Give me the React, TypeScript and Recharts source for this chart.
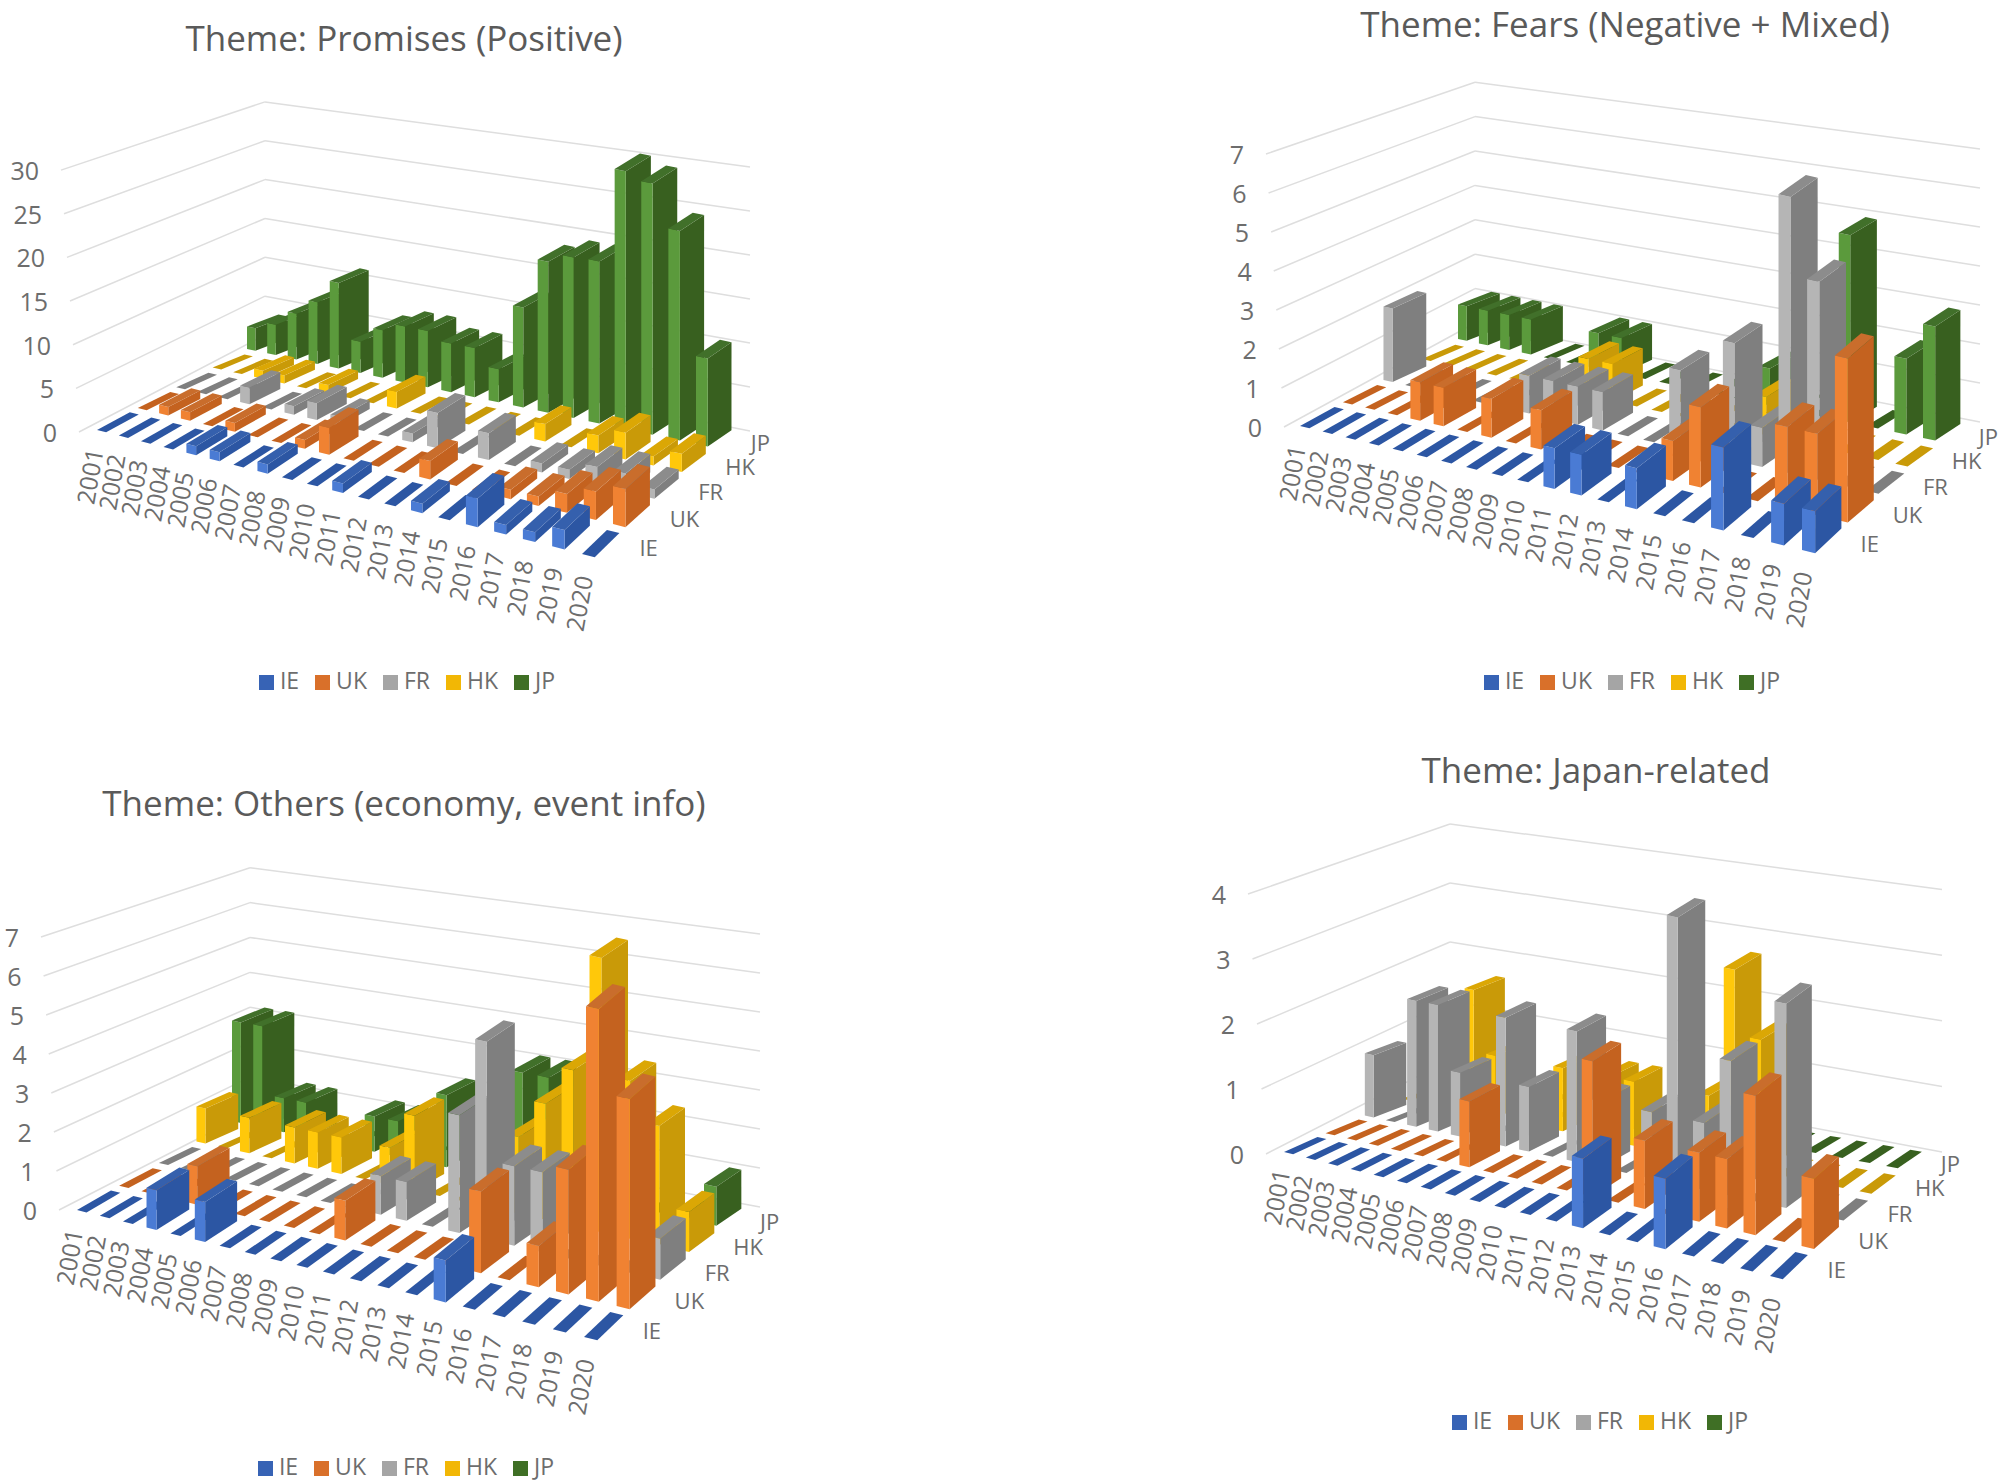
import { ComposedChart, Legend, ReferenceLine, Scatter, XAxis, YAxis } from 'recharts';

const years = ['2001','2002','2003','2004','2005','2006','2007','2008','2009','2010','2011','2012','2013','2014','2015','2016','2017','2018','2019','2020'];
const countries = ['IE', 'UK', 'FR', 'HK', 'JP'];

const promisesIE = [0,0,0,0,1,1,0,1,0,0,1,0,0,1,0,3,1,1,2,0];
const promisesUK = [0,1,1,0,1,0,0,1,3,0,0,0,2,0,0,1,1,2,3,4];
const promisesFR = [0,0,0,2,0,1,2,1,0,0,1,4,0,3,0,1,1,2,2,1];
const promisesHK = [0,0,1,1,0,1,0,0,2,0,0,0,0,0,2,0,2,3,1,2];
const promisesJP = [3,4,6,8,11,4,6,7,7,6,6,4,12,18,19,19,30,29,24,10];

const fearsIE = [0,0,0,0,0,0,0,0,0,0,1,1,0,1,0,0,2,0,1,1];
const fearsUK = [0,0,0,1,1,0,1,0,1,0,0,0,0,1,2,0,0,2,2,4];
const fearsFR = [2,0,0,0,0,0,1,1,1,1,0,0,2,0,3,1,7,5,0,0];
const fearsHK = [0,0,0,0,0,0,0,1,1,0,0,0,0,0,1,0,0,0,0,0];
const fearsJP = [1,1,1,1,0,0,1,1,0,0,0,0,0,1,0,0,5,0,2,3];

const othersIE = [0,0,0,1,0,1,0,0,0,0,0,0,0,0,1,0,0,0,0,0];
const othersUK = [0,0,0,1,0,0,0,0,0,1,0,0,0,0,2,0,1,3,7,5];
const othersFR = [0,0,0,0,0,0,0,0,0,1,1,0,3,5,2,2,0,0,0,1];
const othersHK = [1,0,1,0,1,1,1,0,1,2,0,0,0,2,3,4,7,4,3,1];
const othersJP = [3,3,1,1,0,0,1,1,0,2,0,0,3,3,0,0,0,0,0,1];

const japanIE = [0,0,0,0,0,0,0,0,0,0,0,0,1,0,0,1,0,0,0,0];
const japanUK = [0,0,0,0,0,0,1,0,0,0,0,2,0,1,0,1,1,2,0,1];
const japanFR = [1,0,2,2,1,0,2,1,0,2,1,0,1,4,1,2,0,3,0,0];
const japanHK = [0,0,0,2,1,0,0,1,0,1,1,0,0,1,3,2,0,0,0,0];
const japanJP = [0,0,0,0,0,0,0,0,0,0,0,0,0,0,0,0,0,0,0,0];

const faces: Record<string, { front: string; side: string; top: string; key: string }> = {
  IE: { front: '#4a7bd4', side: '#2c56a3', top: '#3560ad', key: '#3763b5' },
  UK: { front: '#f08232', side: '#c4621f', top: '#c96d2c', key: '#d9702a' },
  FR: { front: '#b5b5b5', side: '#7f7f7f', top: '#8c8c8c', key: '#a5a5a5' },
  HK: { front: '#ffc80a', side: '#c99a08', top: '#dba705', key: '#f2b705' },
  JP: { front: '#5b9a3c', side: '#38601f', top: '#41702a', key: '#3f6f25' },
};

const CHART_W = 1000;
const CHART_H = 741;
const BAR_W = 0.42;
const BAR_D = 0.8;

type Pt = [number, number];
interface Panel {
  title: string;
  titleX: number;
  titleY: number;
  left: number;
  top: number;
  series: number[][];
  ticks: number[];
  legendX: number;
  legendY: number;
  // bar foot positions for the four corners of the grid (page pixels)
  a: Pt; b: Pt; c: Pt; d: Pt;
  // px per unit at those corners
  rise: [number, number, number, number];
  // chart walls
  wallLeft: Pt; wallBack: Pt; wallRight: Pt;
  wallRise: [number, number, number];
}

const panels: Panel[] = [
  {
    title: 'Theme: Promises (Positive)', titleX: 404, titleY: 38, left: 0, top: 0,
    series: [promisesIE, promisesUK, promisesFR, promisesHK, promisesJP],
    ticks: [0, 5, 10, 15, 20, 25, 30], legendX: 415, legendY: 680,
    a: [97, 430], b: [582, 554], c: [696, 444], d: [247, 349], rise: [8.8, 9.8, 8.8, 7.5],
    wallLeft: [79, 432], wallBack: [265, 335], wallRight: [750, 431], wallRise: [8.73, 7.77, 8.8],
  },
  {
    title: 'Theme: Fears (Negative + Mixed)', titleX: 1625, titleY: 24, left: 1000, top: 0,
    series: [fearsIE, fearsUK, fearsFR, fearsHK, fearsJP],
    ticks: [0, 1, 2, 3, 4, 5, 6, 7], legendX: 1640, legendY: 680,
    a: [1300, 426], b: [1802, 550], c: [1923, 438], d: [1458, 339], rise: [39, 42, 38, 34.5],
    wallLeft: [1284, 427], wallBack: [1475, 323], wallRight: [1980, 422], wallRise: [39, 34.4, 39],
  },
  {
    title: 'Theme: Others (economy, event info)', titleX: 404, titleY: 803, left: 0, top: 741,
    series: [othersIE, othersUK, othersFR, othersHK, othersJP],
    ticks: [0, 1, 2, 3, 4, 5, 6, 7], legendX: 414, legendY: 1466,
    a: [77, 1210], b: [584, 1337], c: [704, 1223], d: [232, 1121], rise: [39, 43, 39, 33.5],
    wallLeft: [59, 1210], wallBack: [250, 1112], wallRight: [760, 1207], wallRise: [39, 34.9, 39],
  },
  {
    title: 'Theme: Japan-related', titleX: 1596, titleY: 770, left: 1000, top: 741,
    series: [japanIE, japanUK, japanFR, japanHK, japanJP],
    ticks: [0, 1, 2, 3, 4], legendX: 1608, legendY: 1420,
    a: [1284, 1152], b: [1770, 1276], c: [1886, 1166], d: [1437, 1083], rise: [65.5, 72, 65.5, 59],
    wallLeft: [1266, 1154], wallBack: [1450, 1060], wallRight: [1942, 1152], wallRise: [65, 59, 65.6],
  },
];

// perspective squeeze of the year and country steps
const squeezeYear = (u: number) => u / (1 + 0.18 * (1 - u));
const squeezeCountry = (v: number) => (v * 1.12) / (1 + 0.12 * v);

// floor position, i = year index, s = country index
function floorAt(p: Panel, i: number, s: number): Pt {
  const u = squeezeYear(i / 19);
  const v = squeezeCountry(s / 4);
  const mix = (k: 0 | 1) =>
    (1 - u) * (1 - v) * p.a[k] + u * (1 - v) * p.b[k] + u * v * p.c[k] + (1 - u) * v * p.d[k];
  return [mix(0), mix(1)];
}

function riseAt(p: Panel, i: number, s: number) {
  const u = i / 19;
  const v = s / 4;
  return (1 - u) * (1 - v) * p.rise[0] + u * (1 - v) * p.rise[1] + u * v * p.rise[2] + (1 - u) * v * p.rise[3];
}

// the y axis runs in value units, read at the left corner of the floor
function axisY(p: Panel, pageY: number) {
  return (p.wallLeft[1] - pageY) / p.wallRise[0];
}

function points(p: Panel, s: number) {
  return p.series[s].map((value, i) => {
    const r = riseAt(p, i, s);
    const lift = (pt: Pt, h: number): Pt => [pt[0] - p.left, axisY(p, pt[1] - h * r)];
    const depth = (near: Pt, far: Pt): Pt => [
      near[0] + (far[0] - near[0]) * (1 + 0.05 * s),
      near[1] + (far[1] - near[1]) * (1 - 0.04 * s),
    ];
    const f00 = floorAt(p, i, s);
    const f10 = floorAt(p, i + BAR_W, s);
    const f11 = depth(f10, floorAt(p, i + BAR_W, s + BAR_D));
    const f01 = depth(f00, floorAt(p, i, s + BAR_D));
    return {
      year: years[i],
      value,
      x: f00[0] - p.left,
      y: axisY(p, f00[1]),
      corners: [f00, f10, f11, f01].map((c) => [lift(c, 0), lift(c, value)]),
    };
  });
}

function Box(props: any) {
  const { cx, cy, payload, panel, country } = props;
  if (cx == null || cy == null) return null;
  const sy = panel.wallRise[0];
  // corner offsets are in axis units, cx/cy come from the chart scales
  const toPx = (c: Pt) => `${cx + (c[0] - payload.x)},${cy - (c[1] - payload.y) * sy}`;
  const [c0, c1, c2, c3] = payload.corners;
  const f = faces[country];
  const topFace = [c0[1], c1[1], c2[1], c3[1]].map(toPx).join(' ');
  if (payload.value === 0) return <polygon points={topFace} fill={f.side} />;
  return (
    <g>
      <polygon points={[c1[0], c2[0], c2[1], c1[1]].map(toPx).join(' ')} fill={f.side} />
      <polygon points={[c0[0], c1[0], c1[1], c0[1]].map(toPx).join(' ')} fill={f.front} />
      <polygon points={topFace} fill={f.top} />
    </g>
  );
}

function YearLabel(props: any) {
  const { cx, cy, payload } = props;
  return (
    <text x={cx} y={cy} transform={`rotate(-80 ${cx} ${cy})`} textAnchor="end" dominantBaseline="central" fontSize={24.5} fill="#6d6d6d">
      {payload.label}
    </text>
  );
}

function CountryLabel(props: any) {
  const { cx, cy, payload } = props;
  return (
    <text x={cx} y={cy} textAnchor="start" dominantBaseline="central" fontSize={22} fill="#6d6d6d">
      {payload.label}
    </text>
  );
}

function ThemeChart({ panel }: { panel: Panel }) {
  const p = panel;
  const yTop = axisY(p, p.top);
  const yBottom = axisY(p, p.top + CHART_H);
  const leanPerUnit = 18 / p.ticks[p.ticks.length - 1];

  const yearLabels = years.map((label, i) => {
    const f = floorAt(p, i + 0.1, -0.35);
    return { label, x: f[0] - p.left + 10, y: axisY(p, f[1] + 10) };
  });
  const countryLabels = countries.map((label, s) => {
    const f = floorAt(p, 19.75, s + 0.15);
    return { label, x: f[0] - p.left + 30, y: axisY(p, f[1] - 8 + s * 1.2) };
  });

  const YTick = (t: any) => {
    const value = t.payload.value;
    return (
      <text x={p.wallLeft[0] - p.left - 22 - value * leanPerUnit} y={t.y} textAnchor="end" dominantBaseline="central" fontSize={25} fill="#6d6d6d">
        {value}
      </text>
    );
  };

  return (
    <div style={{ position: 'absolute', left: p.left, top: p.top, width: CHART_W, height: CHART_H }}>
      <div style={{ position: 'absolute', left: p.titleX - p.left - 400, top: p.titleY - p.top - 24, width: 800, textAlign: 'center', fontFamily: 'Open Sans', fontSize: 35, lineHeight: '48px', color: '#5a5a5a', zIndex: 2 }}>
        {p.title}
      </div>
      <ComposedChart width={CHART_W} height={CHART_H} margin={{ top: 0, right: 0, bottom: 0, left: 0 }} style={{ fontFamily: 'Open Sans' }}>
        <XAxis dataKey="x" type="number" domain={[0, CHART_W]} hide height={0} allowDataOverflow />
        <YAxis dataKey="y" type="number" domain={[yBottom, yTop]} ticks={p.ticks} tick={YTick} width={60} mirror axisLine={false} tickLine={false} interval={0} allowDataOverflow />
        {p.ticks.map((t) => {
          const left: Pt = [p.wallLeft[0] - p.left - t * leanPerUnit, axisY(p, p.wallLeft[1] - t * p.wallRise[0])];
          const back: Pt = [p.wallBack[0] - p.left, axisY(p, p.wallBack[1] - t * p.wallRise[1])];
          const right: Pt = [p.wallRight[0] - p.left, axisY(p, p.wallRight[1] - t * p.wallRise[2])];
          return [
            <ReferenceLine key={`l${t}`} segment={[{ x: left[0], y: left[1] }, { x: back[0], y: back[1] }]} stroke="#dedede" strokeWidth={1.5} ifOverflow="visible" />,
            <ReferenceLine key={`r${t}`} segment={[{ x: back[0], y: back[1] }, { x: right[0], y: right[1] }]} stroke="#dedede" strokeWidth={1.5} ifOverflow="visible" />,
          ];
        })}
        {[4, 3, 2, 1, 0].map((s) => (
          <Scatter
            key={countries[s]}
            name={countries[s]}
            data={points(p, s)}
            fill={faces[countries[s]].key}
            legendType="square"
            isAnimationActive={false}
            shape={(props: any) => <Box {...props} panel={p} country={countries[s]} />}
          />
        ))}
        <Scatter data={yearLabels} legendType="none" isAnimationActive={false} shape={YearLabel} />
        <Scatter data={countryLabels} legendType="none" isAnimationActive={false} shape={CountryLabel} />
        <Legend
          layout="horizontal"
          align="center"
          verticalAlign="middle"
          iconSize={15}
          itemSorter={(item: any) => countries.indexOf(item.value)}
          wrapperStyle={{ left: p.legendX - p.left - 200, top: p.legendY - p.top - 16, width: 400, fontSize: 23, color: '#6d6d6d' }}
          formatter={(value: string) => <span style={{ color: '#6d6d6d', marginLeft: 2, marginRight: 6 }}>{value}</span>}
        />
      </ComposedChart>
    </div>
  );
}

export default function App() {
  return (
    <div style={{ position: 'absolute', left: 0, top: 0, width: 2000, height: 1482, background: '#fff', overflow: 'hidden' }}>
      {panels.map((p) => (
        <ThemeChart key={p.title} panel={p} />
      ))}
    </div>
  );
}
